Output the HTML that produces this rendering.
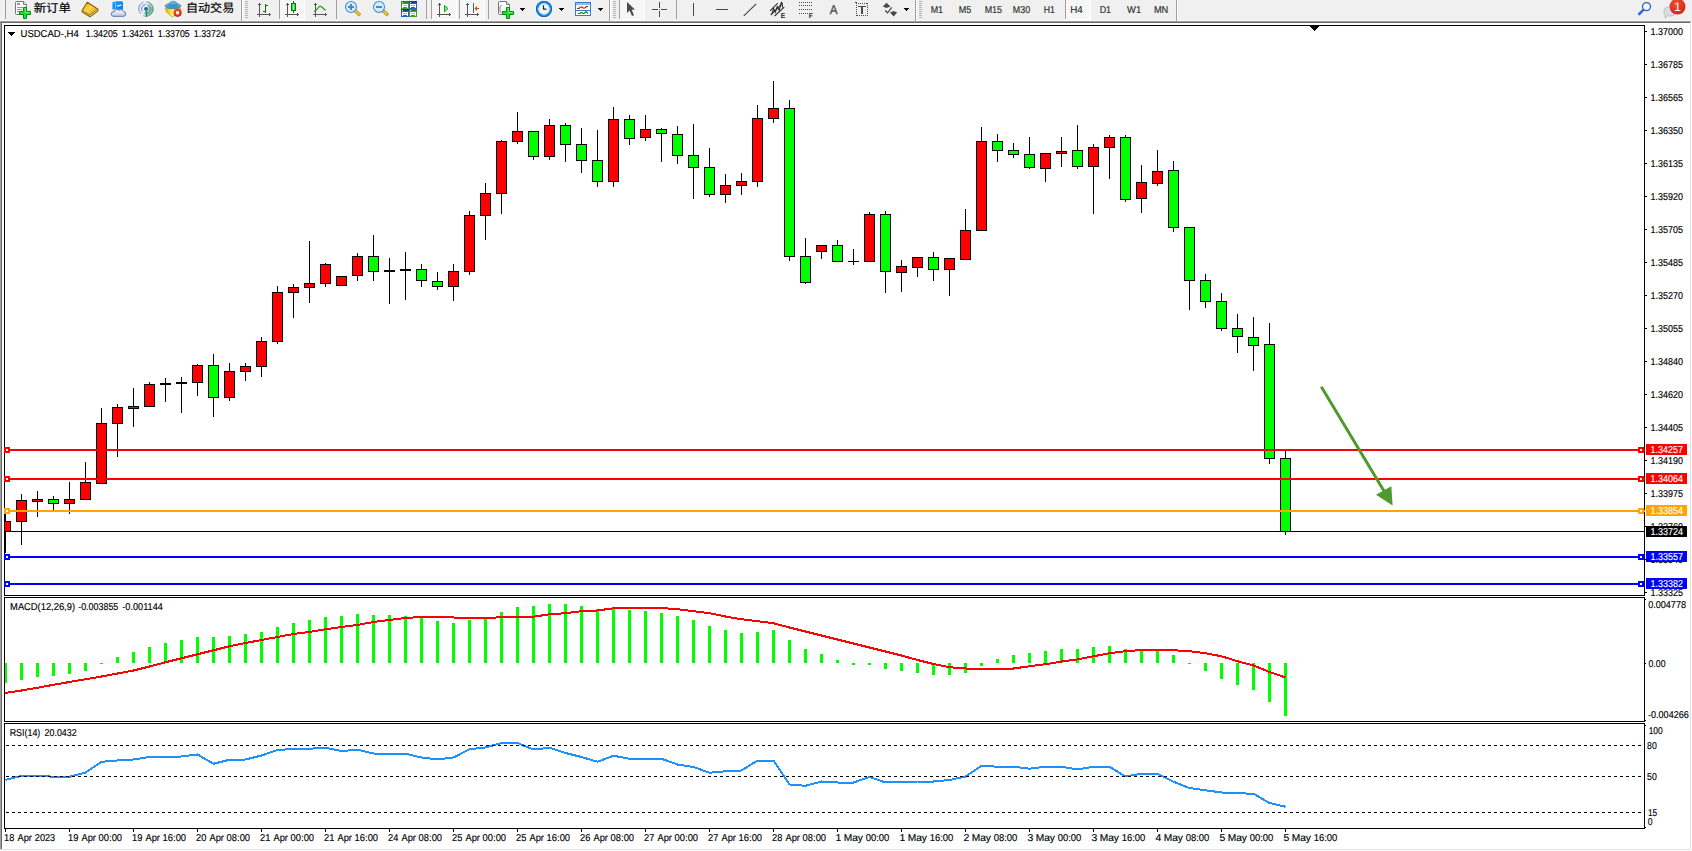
<!DOCTYPE html>
<html lang="zh"><head><meta charset="utf-8"><title>USDCAD-,H4</title>
<style>html,body{margin:0;padding:0;background:#fff;overflow:hidden}body{width:1692px;height:851px}svg{display:block}text{font-family:'Liberation Sans','Noto Sans CJK SC',sans-serif;white-space:pre;text-rendering:geometricPrecision}</style>
</head><body>
<svg width="1692" height="851" viewBox="0 0 1692 851">
<g shape-rendering="crispEdges">
<rect x="0" y="0" width="1692" height="851" fill="#fff"/>
<rect x="0" y="0" width="1692" height="20" fill="#f0f0f0"/>
<rect x="0" y="20" width="1692" height="1" fill="#f6f6f6"/>
<rect x="0" y="21" width="1691" height="1" fill="#a0a0a0"/>
<rect x="0" y="21" width="1" height="829" fill="#a0a0a0"/>
<rect x="1" y="22" width="1690" height="1" fill="#696969"/>
<rect x="1" y="22" width="1" height="827" fill="#696969"/>
<rect x="1690" y="22" width="1" height="828" fill="#e3e3e3"/>
<rect x="0" y="849" width="1691" height="1" fill="#e3e3e3"/>
<rect x="4" y="25" width="1641" height="1" fill="#000"/>
<rect x="4" y="25" width="1" height="804" fill="#000"/>
<rect x="1644" y="25" width="1" height="804" fill="#000"/>
<rect x="4" y="828" width="1641" height="1" fill="#000"/>
<rect x="4" y="595" width="1641" height="1" fill="#000"/>
<rect x="4" y="597" width="1641" height="1" fill="#000"/>
<rect x="4" y="596" width="1641" height="1" fill="#fff"/>
<rect x="4" y="721" width="1641" height="1" fill="#000"/>
<rect x="4" y="723" width="1641" height="1" fill="#000"/>
<rect x="4" y="722" width="1641" height="1" fill="#fff"/>
<rect x="5" y="514" width="1" height="39" fill="#000"/>
<rect x="5" y="521" width="6" height="11" fill="#000"/>
<rect x="5" y="522" width="5" height="9" fill="#ff0000"/>
<rect x="21" y="494" width="1" height="51" fill="#000"/>
<rect x="16" y="500" width="11" height="22" fill="#000"/>
<rect x="17" y="501" width="9" height="20" fill="#ff0000"/>
<rect x="37" y="491" width="1" height="26" fill="#000"/>
<rect x="32" y="499" width="11" height="3" fill="#000"/>
<rect x="33" y="500" width="9" height="1" fill="#ff0000"/>
<rect x="53" y="496" width="1" height="14" fill="#000"/>
<rect x="48" y="499" width="11" height="5" fill="#000"/>
<rect x="49" y="500" width="9" height="3" fill="#00ff00"/>
<rect x="69" y="482" width="1" height="32" fill="#000"/>
<rect x="64" y="499" width="11" height="5" fill="#000"/>
<rect x="65" y="500" width="9" height="3" fill="#ff0000"/>
<rect x="85" y="462" width="1" height="38" fill="#000"/>
<rect x="80" y="482" width="11" height="18" fill="#000"/>
<rect x="81" y="483" width="9" height="16" fill="#ff0000"/>
<rect x="101" y="408" width="1" height="76" fill="#000"/>
<rect x="96" y="423" width="11" height="61" fill="#000"/>
<rect x="97" y="424" width="9" height="59" fill="#ff0000"/>
<rect x="117" y="404" width="1" height="53" fill="#000"/>
<rect x="112" y="407" width="11" height="17" fill="#000"/>
<rect x="113" y="408" width="9" height="15" fill="#ff0000"/>
<rect x="133" y="388" width="1" height="39" fill="#000"/>
<rect x="128" y="406" width="11" height="3" fill="#000"/>
<rect x="129" y="407" width="9" height="1" fill="#ff0000"/>
<rect x="149" y="382" width="1" height="25" fill="#000"/>
<rect x="144" y="384" width="11" height="23" fill="#000"/>
<rect x="145" y="385" width="9" height="21" fill="#ff0000"/>
<rect x="165" y="378" width="1" height="24" fill="#000"/>
<rect x="160" y="383" width="11" height="2" fill="#000"/>
<rect x="181" y="377" width="1" height="36" fill="#000"/>
<rect x="176" y="382" width="11" height="2" fill="#000"/>
<rect x="197" y="364" width="1" height="32" fill="#000"/>
<rect x="192" y="365" width="11" height="18" fill="#000"/>
<rect x="193" y="366" width="9" height="16" fill="#ff0000"/>
<rect x="213" y="354" width="1" height="63" fill="#000"/>
<rect x="208" y="365" width="11" height="33" fill="#000"/>
<rect x="209" y="366" width="9" height="31" fill="#00ff00"/>
<rect x="229" y="363" width="1" height="38" fill="#000"/>
<rect x="224" y="371" width="11" height="27" fill="#000"/>
<rect x="225" y="372" width="9" height="25" fill="#ff0000"/>
<rect x="245" y="363" width="1" height="18" fill="#000"/>
<rect x="240" y="366" width="11" height="6" fill="#000"/>
<rect x="241" y="367" width="9" height="4" fill="#ff0000"/>
<rect x="261" y="337" width="1" height="40" fill="#000"/>
<rect x="256" y="341" width="11" height="26" fill="#000"/>
<rect x="257" y="342" width="9" height="24" fill="#ff0000"/>
<rect x="277" y="286" width="1" height="58" fill="#000"/>
<rect x="272" y="292" width="11" height="50" fill="#000"/>
<rect x="273" y="293" width="9" height="48" fill="#ff0000"/>
<rect x="293" y="284" width="1" height="34" fill="#000"/>
<rect x="288" y="287" width="11" height="6" fill="#000"/>
<rect x="289" y="288" width="9" height="4" fill="#ff0000"/>
<rect x="309" y="241" width="1" height="62" fill="#000"/>
<rect x="304" y="283" width="11" height="5" fill="#000"/>
<rect x="305" y="284" width="9" height="3" fill="#ff0000"/>
<rect x="325" y="263" width="1" height="24" fill="#000"/>
<rect x="320" y="264" width="11" height="20" fill="#000"/>
<rect x="321" y="265" width="9" height="18" fill="#ff0000"/>
<rect x="341" y="276" width="1" height="10" fill="#000"/>
<rect x="336" y="276" width="11" height="10" fill="#000"/>
<rect x="337" y="277" width="9" height="8" fill="#ff0000"/>
<rect x="357" y="253" width="1" height="28" fill="#000"/>
<rect x="352" y="256" width="11" height="20" fill="#000"/>
<rect x="353" y="257" width="9" height="18" fill="#ff0000"/>
<rect x="373" y="235" width="1" height="46" fill="#000"/>
<rect x="368" y="256" width="11" height="16" fill="#000"/>
<rect x="369" y="257" width="9" height="14" fill="#00ff00"/>
<rect x="389" y="258" width="1" height="46" fill="#000"/>
<rect x="384" y="270" width="11" height="2" fill="#000"/>
<rect x="405" y="252" width="1" height="48" fill="#000"/>
<rect x="400" y="269" width="11" height="2" fill="#000"/>
<rect x="421" y="264" width="1" height="23" fill="#000"/>
<rect x="416" y="269" width="11" height="12" fill="#000"/>
<rect x="417" y="270" width="9" height="10" fill="#00ff00"/>
<rect x="437" y="272" width="1" height="18" fill="#000"/>
<rect x="432" y="281" width="11" height="6" fill="#000"/>
<rect x="433" y="282" width="9" height="4" fill="#00ff00"/>
<rect x="453" y="264" width="1" height="37" fill="#000"/>
<rect x="448" y="271" width="11" height="16" fill="#000"/>
<rect x="449" y="272" width="9" height="14" fill="#ff0000"/>
<rect x="469" y="211" width="1" height="64" fill="#000"/>
<rect x="464" y="215" width="11" height="57" fill="#000"/>
<rect x="465" y="216" width="9" height="55" fill="#ff0000"/>
<rect x="485" y="183" width="1" height="57" fill="#000"/>
<rect x="480" y="193" width="11" height="23" fill="#000"/>
<rect x="481" y="194" width="9" height="21" fill="#ff0000"/>
<rect x="501" y="140" width="1" height="74" fill="#000"/>
<rect x="496" y="141" width="11" height="53" fill="#000"/>
<rect x="497" y="142" width="9" height="51" fill="#ff0000"/>
<rect x="517" y="112" width="1" height="32" fill="#000"/>
<rect x="512" y="131" width="11" height="11" fill="#000"/>
<rect x="513" y="132" width="9" height="9" fill="#ff0000"/>
<rect x="533" y="131" width="1" height="29" fill="#000"/>
<rect x="528" y="131" width="11" height="26" fill="#000"/>
<rect x="529" y="132" width="9" height="24" fill="#00ff00"/>
<rect x="549" y="119" width="1" height="41" fill="#000"/>
<rect x="544" y="125" width="11" height="32" fill="#000"/>
<rect x="545" y="126" width="9" height="30" fill="#ff0000"/>
<rect x="565" y="123" width="1" height="39" fill="#000"/>
<rect x="560" y="125" width="11" height="20" fill="#000"/>
<rect x="561" y="126" width="9" height="18" fill="#00ff00"/>
<rect x="581" y="128" width="1" height="45" fill="#000"/>
<rect x="576" y="144" width="11" height="17" fill="#000"/>
<rect x="577" y="145" width="9" height="15" fill="#00ff00"/>
<rect x="597" y="130" width="1" height="57" fill="#000"/>
<rect x="592" y="160" width="11" height="22" fill="#000"/>
<rect x="593" y="161" width="9" height="20" fill="#00ff00"/>
<rect x="613" y="107" width="1" height="80" fill="#000"/>
<rect x="608" y="119" width="11" height="63" fill="#000"/>
<rect x="609" y="120" width="9" height="61" fill="#ff0000"/>
<rect x="629" y="115" width="1" height="30" fill="#000"/>
<rect x="624" y="119" width="11" height="20" fill="#000"/>
<rect x="625" y="120" width="9" height="18" fill="#00ff00"/>
<rect x="645" y="115" width="1" height="26" fill="#000"/>
<rect x="640" y="129" width="11" height="9" fill="#000"/>
<rect x="641" y="130" width="9" height="7" fill="#ff0000"/>
<rect x="661" y="128" width="1" height="34" fill="#000"/>
<rect x="656" y="129" width="11" height="5" fill="#000"/>
<rect x="657" y="130" width="9" height="3" fill="#00ff00"/>
<rect x="677" y="126" width="1" height="38" fill="#000"/>
<rect x="672" y="134" width="11" height="22" fill="#000"/>
<rect x="673" y="135" width="9" height="20" fill="#00ff00"/>
<rect x="693" y="124" width="1" height="75" fill="#000"/>
<rect x="688" y="155" width="11" height="13" fill="#000"/>
<rect x="689" y="156" width="9" height="11" fill="#00ff00"/>
<rect x="709" y="148" width="1" height="49" fill="#000"/>
<rect x="704" y="167" width="11" height="28" fill="#000"/>
<rect x="705" y="168" width="9" height="26" fill="#00ff00"/>
<rect x="725" y="174" width="1" height="29" fill="#000"/>
<rect x="720" y="185" width="11" height="10" fill="#000"/>
<rect x="721" y="186" width="9" height="8" fill="#ff0000"/>
<rect x="741" y="173" width="1" height="22" fill="#000"/>
<rect x="736" y="181" width="11" height="5" fill="#000"/>
<rect x="737" y="182" width="9" height="3" fill="#ff0000"/>
<rect x="757" y="105" width="1" height="82" fill="#000"/>
<rect x="752" y="118" width="11" height="64" fill="#000"/>
<rect x="753" y="119" width="9" height="62" fill="#ff0000"/>
<rect x="773" y="81" width="1" height="42" fill="#000"/>
<rect x="768" y="108" width="11" height="11" fill="#000"/>
<rect x="769" y="109" width="9" height="9" fill="#ff0000"/>
<rect x="789" y="100" width="1" height="161" fill="#000"/>
<rect x="784" y="108" width="11" height="149" fill="#000"/>
<rect x="785" y="109" width="9" height="147" fill="#00ff00"/>
<rect x="805" y="238" width="1" height="46" fill="#000"/>
<rect x="800" y="256" width="11" height="27" fill="#000"/>
<rect x="801" y="257" width="9" height="25" fill="#00ff00"/>
<rect x="821" y="245" width="1" height="14" fill="#000"/>
<rect x="816" y="245" width="11" height="7" fill="#000"/>
<rect x="817" y="246" width="9" height="5" fill="#ff0000"/>
<rect x="837" y="240" width="1" height="22" fill="#000"/>
<rect x="832" y="245" width="11" height="17" fill="#000"/>
<rect x="833" y="246" width="9" height="15" fill="#00ff00"/>
<rect x="853" y="249" width="1" height="16" fill="#000"/>
<rect x="848" y="261" width="11" height="1" fill="#000"/>
<rect x="869" y="212" width="1" height="50" fill="#000"/>
<rect x="864" y="214" width="11" height="48" fill="#000"/>
<rect x="865" y="215" width="9" height="46" fill="#ff0000"/>
<rect x="885" y="211" width="1" height="82" fill="#000"/>
<rect x="880" y="214" width="11" height="58" fill="#000"/>
<rect x="881" y="215" width="9" height="56" fill="#00ff00"/>
<rect x="901" y="260" width="1" height="32" fill="#000"/>
<rect x="896" y="266" width="11" height="7" fill="#000"/>
<rect x="897" y="267" width="9" height="5" fill="#ff0000"/>
<rect x="917" y="257" width="1" height="20" fill="#000"/>
<rect x="912" y="257" width="11" height="11" fill="#000"/>
<rect x="913" y="258" width="9" height="9" fill="#ff0000"/>
<rect x="933" y="252" width="1" height="29" fill="#000"/>
<rect x="928" y="257" width="11" height="13" fill="#000"/>
<rect x="929" y="258" width="9" height="11" fill="#00ff00"/>
<rect x="949" y="258" width="1" height="38" fill="#000"/>
<rect x="944" y="258" width="11" height="12" fill="#000"/>
<rect x="945" y="259" width="9" height="10" fill="#ff0000"/>
<rect x="965" y="209" width="1" height="51" fill="#000"/>
<rect x="960" y="230" width="11" height="30" fill="#000"/>
<rect x="961" y="231" width="9" height="28" fill="#ff0000"/>
<rect x="981" y="127" width="1" height="104" fill="#000"/>
<rect x="976" y="141" width="11" height="90" fill="#000"/>
<rect x="977" y="142" width="9" height="88" fill="#ff0000"/>
<rect x="997" y="134" width="1" height="28" fill="#000"/>
<rect x="992" y="141" width="11" height="10" fill="#000"/>
<rect x="993" y="142" width="9" height="8" fill="#00ff00"/>
<rect x="1013" y="143" width="1" height="15" fill="#000"/>
<rect x="1008" y="150" width="11" height="5" fill="#000"/>
<rect x="1009" y="151" width="9" height="3" fill="#00ff00"/>
<rect x="1029" y="137" width="1" height="32" fill="#000"/>
<rect x="1024" y="154" width="11" height="14" fill="#000"/>
<rect x="1025" y="155" width="9" height="12" fill="#00ff00"/>
<rect x="1045" y="153" width="1" height="29" fill="#000"/>
<rect x="1040" y="153" width="11" height="16" fill="#000"/>
<rect x="1041" y="154" width="9" height="14" fill="#ff0000"/>
<rect x="1061" y="137" width="1" height="30" fill="#000"/>
<rect x="1056" y="151" width="11" height="3" fill="#000"/>
<rect x="1057" y="152" width="9" height="1" fill="#ff0000"/>
<rect x="1077" y="125" width="1" height="44" fill="#000"/>
<rect x="1072" y="150" width="11" height="17" fill="#000"/>
<rect x="1073" y="151" width="9" height="15" fill="#00ff00"/>
<rect x="1093" y="144" width="1" height="70" fill="#000"/>
<rect x="1088" y="147" width="11" height="20" fill="#000"/>
<rect x="1089" y="148" width="9" height="18" fill="#ff0000"/>
<rect x="1109" y="135" width="1" height="44" fill="#000"/>
<rect x="1104" y="137" width="11" height="11" fill="#000"/>
<rect x="1105" y="138" width="9" height="9" fill="#ff0000"/>
<rect x="1125" y="135" width="1" height="67" fill="#000"/>
<rect x="1120" y="137" width="11" height="63" fill="#000"/>
<rect x="1121" y="138" width="9" height="61" fill="#00ff00"/>
<rect x="1141" y="165" width="1" height="48" fill="#000"/>
<rect x="1136" y="182" width="11" height="17" fill="#000"/>
<rect x="1137" y="183" width="9" height="15" fill="#ff0000"/>
<rect x="1157" y="150" width="1" height="36" fill="#000"/>
<rect x="1152" y="171" width="11" height="13" fill="#000"/>
<rect x="1153" y="172" width="9" height="11" fill="#ff0000"/>
<rect x="1173" y="161" width="1" height="71" fill="#000"/>
<rect x="1168" y="170" width="11" height="58" fill="#000"/>
<rect x="1169" y="171" width="9" height="56" fill="#00ff00"/>
<rect x="1189" y="227" width="1" height="83" fill="#000"/>
<rect x="1184" y="227" width="11" height="54" fill="#000"/>
<rect x="1185" y="228" width="9" height="52" fill="#00ff00"/>
<rect x="1205" y="274" width="1" height="34" fill="#000"/>
<rect x="1200" y="280" width="11" height="22" fill="#000"/>
<rect x="1201" y="281" width="9" height="20" fill="#00ff00"/>
<rect x="1221" y="293" width="1" height="38" fill="#000"/>
<rect x="1216" y="301" width="11" height="28" fill="#000"/>
<rect x="1217" y="302" width="9" height="26" fill="#00ff00"/>
<rect x="1237" y="314" width="1" height="39" fill="#000"/>
<rect x="1232" y="328" width="11" height="9" fill="#000"/>
<rect x="1233" y="329" width="9" height="7" fill="#00ff00"/>
<rect x="1253" y="317" width="1" height="54" fill="#000"/>
<rect x="1248" y="337" width="11" height="9" fill="#000"/>
<rect x="1249" y="338" width="9" height="7" fill="#00ff00"/>
<rect x="1269" y="323" width="1" height="141" fill="#000"/>
<rect x="1264" y="344" width="11" height="115" fill="#000"/>
<rect x="1265" y="345" width="9" height="113" fill="#00ff00"/>
<rect x="1285" y="451" width="1" height="84" fill="#000"/>
<rect x="1280" y="458" width="11" height="74" fill="#000"/>
<rect x="1281" y="459" width="9" height="72" fill="#00ff00"/>
<rect x="5" y="531" width="1639" height="1" fill="#000"/>
<rect x="5" y="449" width="1640" height="2" fill="#ff0000"/>
<rect x="4" y="447" width="6" height="6" fill="#ff0000"/>
<rect x="6" y="449" width="2" height="2" fill="#fff"/>
<rect x="1638" y="447" width="6" height="6" fill="#ff0000"/>
<rect x="1640" y="449" width="2" height="2" fill="#fff"/>
<rect x="5" y="478" width="1640" height="2" fill="#ff0000"/>
<rect x="4" y="476" width="6" height="6" fill="#ff0000"/>
<rect x="6" y="478" width="2" height="2" fill="#fff"/>
<rect x="1638" y="476" width="6" height="6" fill="#ff0000"/>
<rect x="1640" y="478" width="2" height="2" fill="#fff"/>
<rect x="5" y="510" width="1640" height="2" fill="#ffa500"/>
<rect x="4" y="508" width="6" height="6" fill="#ffa500"/>
<rect x="6" y="510" width="2" height="2" fill="#fff"/>
<rect x="1638" y="508" width="6" height="6" fill="#ffa500"/>
<rect x="1640" y="510" width="2" height="2" fill="#fff"/>
<rect x="5" y="556" width="1640" height="2" fill="#0000ff"/>
<rect x="4" y="554" width="6" height="6" fill="#0000ff"/>
<rect x="6" y="556" width="2" height="2" fill="#fff"/>
<rect x="1638" y="554" width="6" height="6" fill="#0000ff"/>
<rect x="1640" y="556" width="2" height="2" fill="#fff"/>
<rect x="5" y="583" width="1640" height="2" fill="#0000ff"/>
<rect x="4" y="581" width="6" height="6" fill="#0000ff"/>
<rect x="6" y="583" width="2" height="2" fill="#fff"/>
<rect x="1638" y="581" width="6" height="6" fill="#0000ff"/>
<rect x="1640" y="583" width="2" height="2" fill="#fff"/>
</g>
<g shape-rendering="crispEdges">
<rect x="1645" y="31" width="2" height="1" fill="#000"/>
</g>
<text x="1650.5" y="35" font-size="10" fill="#000" textLength="32.4" lengthAdjust="spacingAndGlyphs" stroke="#000" stroke-width="0.15">1.37000</text>
<g shape-rendering="crispEdges">
<rect x="1645" y="64" width="2" height="1" fill="#000"/>
</g>
<text x="1650.5" y="68" font-size="10" fill="#000" textLength="32.4" lengthAdjust="spacingAndGlyphs" stroke="#000" stroke-width="0.15">1.36785</text>
<g shape-rendering="crispEdges">
<rect x="1645" y="97" width="2" height="1" fill="#000"/>
</g>
<text x="1650.5" y="101" font-size="10" fill="#000" textLength="32.4" lengthAdjust="spacingAndGlyphs" stroke="#000" stroke-width="0.15">1.36565</text>
<g shape-rendering="crispEdges">
<rect x="1645" y="130" width="2" height="1" fill="#000"/>
</g>
<text x="1650.5" y="134" font-size="10" fill="#000" textLength="32.4" lengthAdjust="spacingAndGlyphs" stroke="#000" stroke-width="0.15">1.36350</text>
<g shape-rendering="crispEdges">
<rect x="1645" y="163" width="2" height="1" fill="#000"/>
</g>
<text x="1650.5" y="167" font-size="10" fill="#000" textLength="32.4" lengthAdjust="spacingAndGlyphs" stroke="#000" stroke-width="0.15">1.36135</text>
<g shape-rendering="crispEdges">
<rect x="1645" y="196" width="2" height="1" fill="#000"/>
</g>
<text x="1650.5" y="200" font-size="10" fill="#000" textLength="32.4" lengthAdjust="spacingAndGlyphs" stroke="#000" stroke-width="0.15">1.35920</text>
<g shape-rendering="crispEdges">
<rect x="1645" y="229" width="2" height="1" fill="#000"/>
</g>
<text x="1650.5" y="233" font-size="10" fill="#000" textLength="32.4" lengthAdjust="spacingAndGlyphs" stroke="#000" stroke-width="0.15">1.35705</text>
<g shape-rendering="crispEdges">
<rect x="1645" y="262" width="2" height="1" fill="#000"/>
</g>
<text x="1650.5" y="266" font-size="10" fill="#000" textLength="32.4" lengthAdjust="spacingAndGlyphs" stroke="#000" stroke-width="0.15">1.35485</text>
<g shape-rendering="crispEdges">
<rect x="1645" y="295" width="2" height="1" fill="#000"/>
</g>
<text x="1650.5" y="299" font-size="10" fill="#000" textLength="32.4" lengthAdjust="spacingAndGlyphs" stroke="#000" stroke-width="0.15">1.35270</text>
<g shape-rendering="crispEdges">
<rect x="1645" y="328" width="2" height="1" fill="#000"/>
</g>
<text x="1650.5" y="332" font-size="10" fill="#000" textLength="32.4" lengthAdjust="spacingAndGlyphs" stroke="#000" stroke-width="0.15">1.35055</text>
<g shape-rendering="crispEdges">
<rect x="1645" y="361" width="2" height="1" fill="#000"/>
</g>
<text x="1650.5" y="365" font-size="10" fill="#000" textLength="32.4" lengthAdjust="spacingAndGlyphs" stroke="#000" stroke-width="0.15">1.34840</text>
<g shape-rendering="crispEdges">
<rect x="1645" y="394" width="2" height="1" fill="#000"/>
</g>
<text x="1650.5" y="398" font-size="10" fill="#000" textLength="32.4" lengthAdjust="spacingAndGlyphs" stroke="#000" stroke-width="0.15">1.34620</text>
<g shape-rendering="crispEdges">
<rect x="1645" y="427" width="2" height="1" fill="#000"/>
</g>
<text x="1650.5" y="431" font-size="10" fill="#000" textLength="32.4" lengthAdjust="spacingAndGlyphs" stroke="#000" stroke-width="0.15">1.34405</text>
<g shape-rendering="crispEdges">
<rect x="1645" y="460" width="2" height="1" fill="#000"/>
</g>
<text x="1650.5" y="464" font-size="10" fill="#000" textLength="32.4" lengthAdjust="spacingAndGlyphs" stroke="#000" stroke-width="0.15">1.34190</text>
<g shape-rendering="crispEdges">
<rect x="1645" y="493" width="2" height="1" fill="#000"/>
</g>
<text x="1650.5" y="497" font-size="10" fill="#000" textLength="32.4" lengthAdjust="spacingAndGlyphs" stroke="#000" stroke-width="0.15">1.33975</text>
<g shape-rendering="crispEdges">
<rect x="1645" y="526" width="2" height="1" fill="#000"/>
</g>
<text x="1650.5" y="530" font-size="10" fill="#000" textLength="32.4" lengthAdjust="spacingAndGlyphs" stroke="#000" stroke-width="0.15">1.33760</text>
<g shape-rendering="crispEdges">
<rect x="1645" y="559" width="2" height="1" fill="#000"/>
</g>
<text x="1650.5" y="563" font-size="10" fill="#000" textLength="32.4" lengthAdjust="spacingAndGlyphs" stroke="#000" stroke-width="0.15">1.33540</text>
<g shape-rendering="crispEdges">
<rect x="1645" y="592" width="2" height="1" fill="#000"/>
</g>
<text x="1650.5" y="596" font-size="10" fill="#000" textLength="32.4" lengthAdjust="spacingAndGlyphs" stroke="#000" stroke-width="0.15">1.33325</text>
<g shape-rendering="crispEdges">
<rect x="1646" y="444" width="41" height="11" fill="#ff0000"/>
<rect x="1646" y="473" width="41" height="11" fill="#ff0000"/>
<rect x="1646" y="505" width="41" height="11" fill="#ffa500"/>
<rect x="1646" y="551" width="41" height="11" fill="#0000ff"/>
<rect x="1646" y="578" width="41" height="11" fill="#0000ff"/>
<rect x="1646" y="526" width="41" height="11" fill="#000"/>
</g>
<text x="1650.5" y="453" font-size="10" fill="#fff" textLength="32.4" lengthAdjust="spacingAndGlyphs" stroke="#fff" stroke-width="0.15">1.34257</text>
<text x="1650.5" y="482" font-size="10" fill="#fff" textLength="32.4" lengthAdjust="spacingAndGlyphs" stroke="#fff" stroke-width="0.15">1.34064</text>
<text x="1650.5" y="514" font-size="10" fill="#fff" textLength="32.4" lengthAdjust="spacingAndGlyphs" stroke="#fff" stroke-width="0.15">1.33854</text>
<text x="1650.5" y="560" font-size="10" fill="#fff" textLength="32.4" lengthAdjust="spacingAndGlyphs" stroke="#fff" stroke-width="0.15">1.33557</text>
<text x="1650.5" y="587" font-size="10" fill="#fff" textLength="32.4" lengthAdjust="spacingAndGlyphs" stroke="#fff" stroke-width="0.15">1.33382</text>
<text x="1650.5" y="535" font-size="10" fill="#fff" textLength="32.4" lengthAdjust="spacingAndGlyphs" stroke="#fff" stroke-width="0.15">1.33724</text>
<g shape-rendering="crispEdges">
<rect x="5" y="663" width="2" height="20" fill="#00ff00"/>
<rect x="20" y="663" width="3" height="17" fill="#00ff00"/>
<rect x="36" y="663" width="3" height="14" fill="#00ff00"/>
<rect x="52" y="663" width="3" height="13" fill="#00ff00"/>
<rect x="68" y="663" width="3" height="11" fill="#00ff00"/>
<rect x="84" y="663" width="3" height="8" fill="#00ff00"/>
<rect x="100" y="663" width="3" height="1" fill="#00ff00"/>
<rect x="116" y="657" width="3" height="6" fill="#00ff00"/>
<rect x="132" y="652" width="3" height="11" fill="#00ff00"/>
<rect x="148" y="647" width="3" height="16" fill="#00ff00"/>
<rect x="164" y="643" width="3" height="20" fill="#00ff00"/>
<rect x="180" y="640" width="3" height="23" fill="#00ff00"/>
<rect x="196" y="637" width="3" height="26" fill="#00ff00"/>
<rect x="212" y="637" width="3" height="26" fill="#00ff00"/>
<rect x="228" y="636" width="3" height="27" fill="#00ff00"/>
<rect x="244" y="634" width="3" height="29" fill="#00ff00"/>
<rect x="260" y="632" width="3" height="31" fill="#00ff00"/>
<rect x="276" y="627" width="3" height="36" fill="#00ff00"/>
<rect x="292" y="623" width="3" height="40" fill="#00ff00"/>
<rect x="308" y="620" width="3" height="43" fill="#00ff00"/>
<rect x="324" y="617" width="3" height="46" fill="#00ff00"/>
<rect x="340" y="616" width="3" height="47" fill="#00ff00"/>
<rect x="356" y="614" width="3" height="49" fill="#00ff00"/>
<rect x="372" y="615" width="3" height="48" fill="#00ff00"/>
<rect x="388" y="615" width="3" height="48" fill="#00ff00"/>
<rect x="404" y="616" width="3" height="47" fill="#00ff00"/>
<rect x="420" y="618" width="3" height="45" fill="#00ff00"/>
<rect x="436" y="621" width="3" height="42" fill="#00ff00"/>
<rect x="452" y="623" width="3" height="40" fill="#00ff00"/>
<rect x="468" y="620" width="3" height="43" fill="#00ff00"/>
<rect x="484" y="618" width="3" height="45" fill="#00ff00"/>
<rect x="500" y="612" width="3" height="51" fill="#00ff00"/>
<rect x="516" y="607" width="3" height="56" fill="#00ff00"/>
<rect x="532" y="606" width="3" height="57" fill="#00ff00"/>
<rect x="548" y="604" width="3" height="59" fill="#00ff00"/>
<rect x="564" y="604" width="3" height="59" fill="#00ff00"/>
<rect x="580" y="606" width="3" height="57" fill="#00ff00"/>
<rect x="596" y="609" width="3" height="54" fill="#00ff00"/>
<rect x="612" y="608" width="3" height="55" fill="#00ff00"/>
<rect x="628" y="610" width="3" height="53" fill="#00ff00"/>
<rect x="644" y="611" width="3" height="52" fill="#00ff00"/>
<rect x="660" y="613" width="3" height="50" fill="#00ff00"/>
<rect x="676" y="616" width="3" height="47" fill="#00ff00"/>
<rect x="692" y="620" width="3" height="43" fill="#00ff00"/>
<rect x="708" y="626" width="3" height="37" fill="#00ff00"/>
<rect x="724" y="630" width="3" height="33" fill="#00ff00"/>
<rect x="740" y="633" width="3" height="30" fill="#00ff00"/>
<rect x="756" y="632" width="3" height="31" fill="#00ff00"/>
<rect x="772" y="630" width="3" height="33" fill="#00ff00"/>
<rect x="788" y="640" width="3" height="23" fill="#00ff00"/>
<rect x="804" y="649" width="3" height="14" fill="#00ff00"/>
<rect x="820" y="654" width="3" height="9" fill="#00ff00"/>
<rect x="836" y="660" width="3" height="3" fill="#00ff00"/>
<rect x="852" y="663" width="3" height="2" fill="#00ff00"/>
<rect x="868" y="663" width="3" height="2" fill="#00ff00"/>
<rect x="884" y="663" width="3" height="6" fill="#00ff00"/>
<rect x="900" y="663" width="3" height="8" fill="#00ff00"/>
<rect x="916" y="663" width="3" height="10" fill="#00ff00"/>
<rect x="932" y="663" width="3" height="12" fill="#00ff00"/>
<rect x="948" y="663" width="3" height="12" fill="#00ff00"/>
<rect x="964" y="663" width="3" height="10" fill="#00ff00"/>
<rect x="980" y="663" width="3" height="3" fill="#00ff00"/>
<rect x="996" y="659" width="3" height="4" fill="#00ff00"/>
<rect x="1012" y="655" width="3" height="8" fill="#00ff00"/>
<rect x="1028" y="653" width="3" height="10" fill="#00ff00"/>
<rect x="1044" y="651" width="3" height="12" fill="#00ff00"/>
<rect x="1060" y="649" width="3" height="14" fill="#00ff00"/>
<rect x="1076" y="649" width="3" height="14" fill="#00ff00"/>
<rect x="1092" y="647" width="3" height="16" fill="#00ff00"/>
<rect x="1108" y="646" width="3" height="17" fill="#00ff00"/>
<rect x="1124" y="649" width="3" height="14" fill="#00ff00"/>
<rect x="1140" y="650" width="3" height="13" fill="#00ff00"/>
<rect x="1156" y="651" width="3" height="12" fill="#00ff00"/>
<rect x="1172" y="655" width="3" height="8" fill="#00ff00"/>
<rect x="1188" y="663" width="3" height="1" fill="#00ff00"/>
<rect x="1204" y="663" width="3" height="8" fill="#00ff00"/>
<rect x="1220" y="663" width="3" height="16" fill="#00ff00"/>
<rect x="1236" y="663" width="3" height="22" fill="#00ff00"/>
<rect x="1252" y="663" width="3" height="27" fill="#00ff00"/>
<rect x="1268" y="663" width="3" height="39" fill="#00ff00"/>
<rect x="1284" y="663" width="3" height="53" fill="#00ff00"/>
</g>
<polyline points="5,693 21.5,690.5 37.5,687.75 53.5,684.75 69.5,682 85.5,679.25 101.5,676.5 117.5,673.5 133.5,670.5 149.5,666.5 165.5,662.25 181.5,658.25 197.5,654.25 213.5,650.25 229.5,646.25 245.5,643 261.5,640 277.5,637 293.5,634 309.5,632 325.5,629.25 341.5,627 357.5,625 373.5,622 389.5,620 405.5,618 421.5,617 437.5,617.25 453.5,617.5 469.5,617.75 485.5,618 501.5,617.25 517.5,617 533.5,616.75 549.5,614.25 565.5,613.25 581.5,611.25 597.5,610.5 613.5,608.25 629.5,608 645.5,608 661.5,608 677.5,609.25 693.5,611.25 709.5,613.25 725.5,616.5 741.5,619.25 757.5,621.25 773.5,623.25 789.5,627.5 805.5,631.5 821.5,635.5 837.5,639.5 853.5,643.5 869.5,647.5 885.5,651.5 901.5,655.5 917.5,660 933.5,664 949.5,667.25 965.5,668.5 981.5,668.5 997.5,668.5 1013.5,668.5 1029.5,666.25 1045.5,664.25 1061.5,661.5 1077.5,659.5 1093.5,656.25 1109.5,653.25 1125.5,651.25 1141.5,650 1157.5,649.75 1173.5,650.25 1189.5,651.25 1205.5,653.25 1221.5,656.25 1237.5,661.25 1253.5,665.5 1269.5,672 1285.5,677.5" fill="none" stroke="#ff0000" stroke-width="2" stroke-linejoin="round" shape-rendering="crispEdges"/>
<polyline points="5.5,780 21.5,775.75 37.5,775.75 53.5,776.75 69.5,776.75 85.5,772.5 101.5,761.75 117.5,760.5 133.5,759.5 149.5,757 165.5,756.75 181.5,756.5 197.5,754.5 213.5,763.75 229.5,759.75 245.5,759.5 261.5,755.5 277.5,750 293.5,749 309.5,748.75 325.5,747.75 341.5,751 357.5,749.75 373.5,753.5 389.5,753.5 405.5,753.75 421.5,757.5 437.5,759.5 453.5,757.5 469.5,749.25 485.5,747.5 501.5,743 517.5,743 533.5,749.5 549.5,747.75 565.5,753 581.5,757 597.5,761.75 613.5,755.75 629.5,758.75 645.5,758.75 661.5,758.75 677.5,764.5 693.5,767 709.5,772.75 725.5,771.25 741.5,770.5 757.5,760.5 773.5,760.5 789.5,784.5 805.5,785.75 821.5,781.5 837.5,782.5 853.5,782.5 869.5,777 885.5,782.5 901.5,782 917.5,781.5 933.5,781.5 949.5,780 965.5,776.5 981.5,765.75 997.5,766.75 1013.5,766.75 1029.5,768.75 1045.5,766.75 1061.5,766.75 1077.5,769.5 1093.5,766.75 1109.5,766.75 1125.5,776.5 1141.5,773.75 1157.5,773.75 1173.5,781.75 1189.5,788 1205.5,790.25 1221.5,792.5 1237.5,793.25 1253.5,793.75 1269.5,803 1285.5,806.75" fill="none" stroke="#1e90ff" stroke-width="2" stroke-linejoin="round" shape-rendering="crispEdges"/>
<g shape-rendering="crispEdges">
<line x1="6" y1="745.5" x2="1642" y2="745.5" stroke="#000" stroke-width="1" stroke-dasharray="3 3"/>
<line x1="6" y1="776.5" x2="1642" y2="776.5" stroke="#000" stroke-width="1" stroke-dasharray="3 3"/>
<line x1="6" y1="812.5" x2="1642" y2="812.5" stroke="#000" stroke-width="1" stroke-dasharray="3 3"/>
</g>
<g shape-rendering="crispEdges">
<rect x="1645" y="599" width="1" height="1" fill="#000"/>
<rect x="1645" y="663" width="1" height="1" fill="#000"/>
<rect x="1645" y="720" width="1" height="1" fill="#000"/>
<rect x="1645" y="725" width="1" height="1" fill="#000"/>
<rect x="1645" y="827" width="1" height="1" fill="#000"/>
</g>
<text x="1648.2" y="608" font-size="10" fill="#000" textLength="37.8" lengthAdjust="spacingAndGlyphs" stroke="#000" stroke-width="0.15">0.004778</text>
<text x="1648.5" y="667" font-size="10" fill="#000" textLength="17" lengthAdjust="spacingAndGlyphs" stroke="#000" stroke-width="0.15">0.00</text>
<text x="1648" y="718" font-size="10" fill="#000" textLength="40.8" lengthAdjust="spacingAndGlyphs" stroke="#000" stroke-width="0.15">-0.004266</text>
<text x="1648.7" y="734" font-size="10" fill="#000" textLength="14" lengthAdjust="spacingAndGlyphs" stroke="#000" stroke-width="0.15">100</text>
<text x="1647.1" y="749" font-size="10" fill="#000" textLength="9.7" lengthAdjust="spacingAndGlyphs" stroke="#000" stroke-width="0.15">80</text>
<text x="1647.1" y="780" font-size="10" fill="#000" textLength="9.7" lengthAdjust="spacingAndGlyphs" stroke="#000" stroke-width="0.15">50</text>
<text x="1648" y="816.2" font-size="10" fill="#000" textLength="9.2" lengthAdjust="spacingAndGlyphs" stroke="#000" stroke-width="0.15">15</text>
<text x="1647.8" y="825.3" font-size="10" fill="#000" textLength="4.8" lengthAdjust="spacingAndGlyphs" stroke="#000" stroke-width="0.15">0</text>
<text y="610" font-size="10" fill="#000" stroke="#000" stroke-width="0.15"><tspan x="10.1" textLength="64.9" lengthAdjust="spacingAndGlyphs">MACD(12,26,9)</tspan> <tspan x="78.2" textLength="40.1" lengthAdjust="spacingAndGlyphs">-0.003855</tspan> <tspan x="122.3" textLength="40.5" lengthAdjust="spacingAndGlyphs">-0.001144</tspan></text>
<text y="736" font-size="10" fill="#000" stroke="#000" stroke-width="0.15"><tspan x="9.7" textLength="30.6" lengthAdjust="spacingAndGlyphs">RSI(14)</tspan> <tspan x="44.6" textLength="32.1" lengthAdjust="spacingAndGlyphs">20.0432</tspan></text>
<g shape-rendering="crispEdges">
<rect x="8" y="32" width="7" height="1" fill="#000"/>
<rect x="9" y="33" width="5" height="1" fill="#000"/>
<rect x="10" y="34" width="3" height="1" fill="#000"/>
<rect x="11" y="35" width="1" height="1" fill="#000"/>
</g>
<text y="37" font-size="10" fill="#000" stroke="#000" stroke-width="0.15"><tspan x="20.5" textLength="58.2" lengthAdjust="spacingAndGlyphs">USDCAD-,H4</tspan> <tspan x="85.8" textLength="32" lengthAdjust="spacingAndGlyphs">1.34205</tspan> <tspan x="121.8" textLength="32" lengthAdjust="spacingAndGlyphs">1.34261</tspan> <tspan x="157.8" textLength="32" lengthAdjust="spacingAndGlyphs">1.33705</tspan> <tspan x="193.8" textLength="32" lengthAdjust="spacingAndGlyphs">1.33724</tspan></text>
<g shape-rendering="crispEdges">
<rect x="1310" y="26" width="9" height="1" fill="#000"/>
<rect x="1311" y="27" width="7" height="1" fill="#000"/>
<rect x="1312" y="28" width="5" height="1" fill="#000"/>
<rect x="1313" y="29" width="3" height="1" fill="#000"/>
<rect x="1314" y="30" width="1" height="1" fill="#000"/>
</g>
<g shape-rendering="crispEdges">
<rect x="5" y="829" width="1" height="3" fill="#000"/>
</g>
<text y="841" font-size="10" fill="#000" stroke="#000" stroke-width="0.15"><tspan x="4.1" textLength="10.3" lengthAdjust="spacingAndGlyphs">18</tspan> <tspan x="17.5" textLength="14.4" lengthAdjust="spacingAndGlyphs">Apr</tspan> <tspan x="34.8" textLength="20.4" lengthAdjust="spacingAndGlyphs">2023</tspan></text>
<g shape-rendering="crispEdges">
<rect x="69" y="829" width="1" height="3" fill="#000"/>
</g>
<text y="841" font-size="10" fill="#000" stroke="#000" stroke-width="0.15"><tspan x="68.1" textLength="10.3" lengthAdjust="spacingAndGlyphs">19</tspan> <tspan x="81.5" textLength="14.4" lengthAdjust="spacingAndGlyphs">Apr</tspan> <tspan x="98.6" textLength="23.5" lengthAdjust="spacingAndGlyphs">00:00</tspan></text>
<g shape-rendering="crispEdges">
<rect x="133" y="829" width="1" height="3" fill="#000"/>
</g>
<text y="841" font-size="10" fill="#000" stroke="#000" stroke-width="0.15"><tspan x="132.1" textLength="10.3" lengthAdjust="spacingAndGlyphs">19</tspan> <tspan x="145.5" textLength="14.4" lengthAdjust="spacingAndGlyphs">Apr</tspan> <tspan x="162.6" textLength="23.5" lengthAdjust="spacingAndGlyphs">16:00</tspan></text>
<g shape-rendering="crispEdges">
<rect x="197" y="829" width="1" height="3" fill="#000"/>
</g>
<text y="841" font-size="10" fill="#000" stroke="#000" stroke-width="0.15"><tspan x="196.1" textLength="10.3" lengthAdjust="spacingAndGlyphs">20</tspan> <tspan x="209.5" textLength="14.4" lengthAdjust="spacingAndGlyphs">Apr</tspan> <tspan x="226.6" textLength="23.5" lengthAdjust="spacingAndGlyphs">08:00</tspan></text>
<g shape-rendering="crispEdges">
<rect x="261" y="829" width="1" height="3" fill="#000"/>
</g>
<text y="841" font-size="10" fill="#000" stroke="#000" stroke-width="0.15"><tspan x="260.1" textLength="10.3" lengthAdjust="spacingAndGlyphs">21</tspan> <tspan x="273.5" textLength="14.4" lengthAdjust="spacingAndGlyphs">Apr</tspan> <tspan x="290.6" textLength="23.5" lengthAdjust="spacingAndGlyphs">00:00</tspan></text>
<g shape-rendering="crispEdges">
<rect x="325" y="829" width="1" height="3" fill="#000"/>
</g>
<text y="841" font-size="10" fill="#000" stroke="#000" stroke-width="0.15"><tspan x="324.1" textLength="10.3" lengthAdjust="spacingAndGlyphs">21</tspan> <tspan x="337.5" textLength="14.4" lengthAdjust="spacingAndGlyphs">Apr</tspan> <tspan x="354.6" textLength="23.5" lengthAdjust="spacingAndGlyphs">16:00</tspan></text>
<g shape-rendering="crispEdges">
<rect x="389" y="829" width="1" height="3" fill="#000"/>
</g>
<text y="841" font-size="10" fill="#000" stroke="#000" stroke-width="0.15"><tspan x="388.1" textLength="10.3" lengthAdjust="spacingAndGlyphs">24</tspan> <tspan x="401.5" textLength="14.4" lengthAdjust="spacingAndGlyphs">Apr</tspan> <tspan x="418.6" textLength="23.5" lengthAdjust="spacingAndGlyphs">08:00</tspan></text>
<g shape-rendering="crispEdges">
<rect x="453" y="829" width="1" height="3" fill="#000"/>
</g>
<text y="841" font-size="10" fill="#000" stroke="#000" stroke-width="0.15"><tspan x="452.1" textLength="10.3" lengthAdjust="spacingAndGlyphs">25</tspan> <tspan x="465.5" textLength="14.4" lengthAdjust="spacingAndGlyphs">Apr</tspan> <tspan x="482.6" textLength="23.5" lengthAdjust="spacingAndGlyphs">00:00</tspan></text>
<g shape-rendering="crispEdges">
<rect x="517" y="829" width="1" height="3" fill="#000"/>
</g>
<text y="841" font-size="10" fill="#000" stroke="#000" stroke-width="0.15"><tspan x="516.1" textLength="10.3" lengthAdjust="spacingAndGlyphs">25</tspan> <tspan x="529.5" textLength="14.4" lengthAdjust="spacingAndGlyphs">Apr</tspan> <tspan x="546.6" textLength="23.5" lengthAdjust="spacingAndGlyphs">16:00</tspan></text>
<g shape-rendering="crispEdges">
<rect x="581" y="829" width="1" height="3" fill="#000"/>
</g>
<text y="841" font-size="10" fill="#000" stroke="#000" stroke-width="0.15"><tspan x="580.1" textLength="10.3" lengthAdjust="spacingAndGlyphs">26</tspan> <tspan x="593.5" textLength="14.4" lengthAdjust="spacingAndGlyphs">Apr</tspan> <tspan x="610.6" textLength="23.5" lengthAdjust="spacingAndGlyphs">08:00</tspan></text>
<g shape-rendering="crispEdges">
<rect x="645" y="829" width="1" height="3" fill="#000"/>
</g>
<text y="841" font-size="10" fill="#000" stroke="#000" stroke-width="0.15"><tspan x="644.1" textLength="10.3" lengthAdjust="spacingAndGlyphs">27</tspan> <tspan x="657.5" textLength="14.4" lengthAdjust="spacingAndGlyphs">Apr</tspan> <tspan x="674.6" textLength="23.5" lengthAdjust="spacingAndGlyphs">00:00</tspan></text>
<g shape-rendering="crispEdges">
<rect x="709" y="829" width="1" height="3" fill="#000"/>
</g>
<text y="841" font-size="10" fill="#000" stroke="#000" stroke-width="0.15"><tspan x="708.1" textLength="10.3" lengthAdjust="spacingAndGlyphs">27</tspan> <tspan x="721.5" textLength="14.4" lengthAdjust="spacingAndGlyphs">Apr</tspan> <tspan x="738.6" textLength="23.5" lengthAdjust="spacingAndGlyphs">16:00</tspan></text>
<g shape-rendering="crispEdges">
<rect x="773" y="829" width="1" height="3" fill="#000"/>
</g>
<text y="841" font-size="10" fill="#000" stroke="#000" stroke-width="0.15"><tspan x="772.1" textLength="10.3" lengthAdjust="spacingAndGlyphs">28</tspan> <tspan x="785.5" textLength="14.4" lengthAdjust="spacingAndGlyphs">Apr</tspan> <tspan x="802.6" textLength="23.5" lengthAdjust="spacingAndGlyphs">08:00</tspan></text>
<g shape-rendering="crispEdges">
<rect x="837" y="829" width="1" height="3" fill="#000"/>
</g>
<text y="841" font-size="10" fill="#000" stroke="#000" stroke-width="0.15"><tspan x="835.6" textLength="5.8" lengthAdjust="spacingAndGlyphs">1</tspan> <tspan x="843.7" textLength="19.3" lengthAdjust="spacingAndGlyphs">May</tspan> <tspan x="865.7" textLength="23.7" lengthAdjust="spacingAndGlyphs">00:00</tspan></text>
<g shape-rendering="crispEdges">
<rect x="901" y="829" width="1" height="3" fill="#000"/>
</g>
<text y="841" font-size="10" fill="#000" stroke="#000" stroke-width="0.15"><tspan x="899.6" textLength="5.8" lengthAdjust="spacingAndGlyphs">1</tspan> <tspan x="907.7" textLength="19.3" lengthAdjust="spacingAndGlyphs">May</tspan> <tspan x="929.7" textLength="23.7" lengthAdjust="spacingAndGlyphs">16:00</tspan></text>
<g shape-rendering="crispEdges">
<rect x="965" y="829" width="1" height="3" fill="#000"/>
</g>
<text y="841" font-size="10" fill="#000" stroke="#000" stroke-width="0.15"><tspan x="963.6" textLength="5.8" lengthAdjust="spacingAndGlyphs">2</tspan> <tspan x="971.7" textLength="19.3" lengthAdjust="spacingAndGlyphs">May</tspan> <tspan x="993.7" textLength="23.7" lengthAdjust="spacingAndGlyphs">08:00</tspan></text>
<g shape-rendering="crispEdges">
<rect x="1029" y="829" width="1" height="3" fill="#000"/>
</g>
<text y="841" font-size="10" fill="#000" stroke="#000" stroke-width="0.15"><tspan x="1027.6" textLength="5.8" lengthAdjust="spacingAndGlyphs">3</tspan> <tspan x="1035.7" textLength="19.3" lengthAdjust="spacingAndGlyphs">May</tspan> <tspan x="1057.7" textLength="23.7" lengthAdjust="spacingAndGlyphs">00:00</tspan></text>
<g shape-rendering="crispEdges">
<rect x="1093" y="829" width="1" height="3" fill="#000"/>
</g>
<text y="841" font-size="10" fill="#000" stroke="#000" stroke-width="0.15"><tspan x="1091.6" textLength="5.8" lengthAdjust="spacingAndGlyphs">3</tspan> <tspan x="1099.7" textLength="19.3" lengthAdjust="spacingAndGlyphs">May</tspan> <tspan x="1121.7" textLength="23.7" lengthAdjust="spacingAndGlyphs">16:00</tspan></text>
<g shape-rendering="crispEdges">
<rect x="1157" y="829" width="1" height="3" fill="#000"/>
</g>
<text y="841" font-size="10" fill="#000" stroke="#000" stroke-width="0.15"><tspan x="1155.6" textLength="5.8" lengthAdjust="spacingAndGlyphs">4</tspan> <tspan x="1163.7" textLength="19.3" lengthAdjust="spacingAndGlyphs">May</tspan> <tspan x="1185.7" textLength="23.7" lengthAdjust="spacingAndGlyphs">08:00</tspan></text>
<g shape-rendering="crispEdges">
<rect x="1221" y="829" width="1" height="3" fill="#000"/>
</g>
<text y="841" font-size="10" fill="#000" stroke="#000" stroke-width="0.15"><tspan x="1219.6" textLength="5.8" lengthAdjust="spacingAndGlyphs">5</tspan> <tspan x="1227.7" textLength="19.3" lengthAdjust="spacingAndGlyphs">May</tspan> <tspan x="1249.7" textLength="23.7" lengthAdjust="spacingAndGlyphs">00:00</tspan></text>
<g shape-rendering="crispEdges">
<rect x="1285" y="829" width="1" height="3" fill="#000"/>
</g>
<text y="841" font-size="10" fill="#000" stroke="#000" stroke-width="0.15"><tspan x="1283.6" textLength="5.8" lengthAdjust="spacingAndGlyphs">5</tspan> <tspan x="1291.7" textLength="19.3" lengthAdjust="spacingAndGlyphs">May</tspan> <tspan x="1313.7" textLength="23.7" lengthAdjust="spacingAndGlyphs">16:00</tspan></text>
<line x1="1321.3" y1="386.8" x2="1384" y2="491" stroke="#4e9a2e" stroke-width="3"/>
<path d="M1376 494.8L1391.3 486.2L1392.6 505.6z" fill="#4e9a2e"/>
<defs><pattern id="chk" width="2" height="2" patternUnits="userSpaceOnUse"><rect width="2" height="2" fill="#f0f0f0"/><rect width="1" height="1" fill="#fff"/><rect x="1" y="1" width="1" height="1" fill="#fff"/></pattern><linearGradient id="gd" x1="0" y1="0" x2="1" y2="1"><stop offset="0" stop-color="#e6a80e"/><stop offset="0.45" stop-color="#f8d848"/><stop offset="1" stop-color="#c08414"/></linearGradient><linearGradient id="cl" x1="0" y1="0" x2="0" y2="1"><stop offset="0" stop-color="#ffffff"/><stop offset="1" stop-color="#b8c6e0"/></linearGradient><linearGradient id="bx" x1="0" y1="0" x2="1" y2="1"><stop offset="0" stop-color="#18a0ff"/><stop offset="1" stop-color="#0a78e0"/></linearGradient><radialGradient id="rb" cx="0.4" cy="0.3" r="0.8"><stop offset="0" stop-color="#f05030"/><stop offset="1" stop-color="#d02010"/></radialGradient><linearGradient id="hat" x1="0" y1="0" x2="0" y2="1"><stop offset="0" stop-color="#7cc4ea"/><stop offset="1" stop-color="#2a8ac0"/></linearGradient><linearGradient id="yl" x1="0" y1="0" x2="1" y2="0"><stop offset="0" stop-color="#e0b000"/><stop offset="0.5" stop-color="#fff080"/><stop offset="1" stop-color="#f0c820"/></linearGradient><linearGradient id="cn" x1="0" y1="0" x2="1" y2="0"><stop offset="0" stop-color="#20c040"/><stop offset="0.5" stop-color="#90ffa0"/><stop offset="1" stop-color="#20c040"/></linearGradient><radialGradient id="ck" cx="0.5" cy="0.5" r="0.5"><stop offset="0" stop-color="#ffffff"/><stop offset="0.7" stop-color="#e4eef8"/><stop offset="0.72" stop-color="#1a80e0"/><stop offset="1" stop-color="#0a58b8"/></radialGradient><linearGradient id="sg" x1="0" y1="0" x2="1" y2="1"><stop offset="0" stop-color="#d8ecd0"/><stop offset="1" stop-color="#48a848"/></linearGradient></defs>
<g shape-rendering="crispEdges">
<rect x="5" y="0" width="1" height="19" fill="#a0a0a0"/>
</g>
<path d="M15.5 2.5q0 -1 1 -1h7l3 3v9q0 1 -1 1h-9q-1 0 -1 -1z" fill="#fff" stroke="#777" stroke-width="1"/>
<path d="M23.5 1.5v3h3" fill="#eee" stroke="#777" stroke-width="1"/>
<g shape-rendering="crispEdges">
<rect x="17" y="3" width="3" height="2" fill="#999"/>
<rect x="17" y="7" width="6" height="1" fill="#999"/>
<rect x="17" y="9" width="5" height="1" fill="#999"/>
<rect x="17" y="11" width="3" height="1" fill="#999"/>
</g>
<path d="M23.5 7.5h3v4h4v3h-4v4h-3v-4h-4v-3h4z" fill="#22dd33" stroke="#0a8a0a" stroke-width="1"/>
<path d="M24.5 8.5h1v4h4" fill="none" stroke="#8f8" stroke-width="1" opacity="0.7"/>
<text x="33.7" y="12" font-size="11.6" fill="#000" stroke="#000" stroke-width="0.18" style="font-family:'Liberation Sans','Noto Sans CJK SC',sans-serif" textLength="37.3" lengthAdjust="spacingAndGlyphs">新订单</text>
<path d="M87.3 2.3L98 9.2L97.8 11L90 16.9L82 11.8L82.2 10.2z" fill="url(#gd)" stroke="#8e5c06" stroke-width="1.1" stroke-linejoin="round"/>
<path d="M82.6 10.6L89.8 15L97.6 9.4" fill="none" stroke="#a87010" stroke-width="0.9"/>
<path d="M90.4 15.6L97.4 10.4" fill="none" stroke="#e8d8a0" stroke-width="0.7"/>
<path d="M112.4 2.2l4 -1h5.6l1 1.4v7h-10.6z" fill="url(#bx)"/>
<path d="M115.5 2.5v7" stroke="#8fd0ff" stroke-width="0.8" fill="none"/>
<path d="M117 6.2l4.5 -1.2" stroke="#fff" stroke-width="1.2" fill="none"/>
<path d="M113 16.3h10.2a2.4 2.4 0 0 0 0.3 -4.8a3 3 0 0 0 -4.4 -1.2a2.8 2.8 0 0 0 -4.6 1.4a2.3 2.3 0 0 0 -1.5 4.6z" fill="url(#cl)" stroke="#4868a8" stroke-width="0.9"/>
<circle cx="146" cy="9" r="7.6" fill="#e6eef6" opacity="0.6"/>
<path d="M146 9L146 16.6A7.6 7.6 0 0 0 153.6 9A7.6 7.6 0 0 0 149 2z" fill="url(#sg)" opacity="0.9"/>
<circle cx="146" cy="9" r="7.2" fill="none" stroke="#5a86d8" stroke-width="1" stroke-dasharray="14 3" opacity="0.85"/>
<circle cx="146" cy="9" r="4.4" fill="none" stroke="#4a78d0" stroke-width="1" stroke-dasharray="9 2" opacity="0.85"/>
<circle cx="146" cy="8.8" r="1.9" fill="#2858c8"/>
<rect x="145.6" y="9.5" width="1.5" height="7.2" fill="#18a028"/>
<path d="M165.3 8.2h15.4l-1 2.2l-6.6 6.4h-1.4l-5.6 -5.2z" fill="url(#yl)" stroke="#c89a08" stroke-width="0.7"/>
<ellipse cx="173" cy="6" rx="7.9" ry="2.7" fill="url(#hat)" stroke="#2a84b4" stroke-width="0.7"/>
<path d="M168.8 5.6q0.4 -4.4 4.4 -4.4q4 0 4.4 4.2q-4.4 1.8 -8.8 0.2z" fill="url(#hat)" stroke="#2a84b4" stroke-width="0.6"/>
<circle cx="177.6" cy="12.8" r="4.1" fill="url(#rb)"/>
<rect x="176.1" y="11.3" width="3" height="3" fill="#fff"/>
<text x="186" y="12" font-size="11.6" fill="#000" stroke="#000" stroke-width="0.18" style="font-family:'Liberation Sans','Noto Sans CJK SC',sans-serif" textLength="48.2" lengthAdjust="spacingAndGlyphs">自动交易</text>
<g shape-rendering="crispEdges">
<rect x="241" y="0" width="1" height="21" fill="#a0a0a0"/>
<rect x="242" y="0" width="1" height="21" fill="#ffffff"/>
</g>
<g shape-rendering="crispEdges">
<rect x="245" y="1" width="3" height="1" fill="#b4b4b4"/>
<rect x="245" y="3" width="3" height="1" fill="#b4b4b4"/>
<rect x="245" y="5" width="3" height="1" fill="#b4b4b4"/>
<rect x="245" y="7" width="3" height="1" fill="#b4b4b4"/>
<rect x="245" y="9" width="3" height="1" fill="#b4b4b4"/>
<rect x="245" y="11" width="3" height="1" fill="#b4b4b4"/>
<rect x="245" y="13" width="3" height="1" fill="#b4b4b4"/>
<rect x="245" y="15" width="3" height="1" fill="#b4b4b4"/>
<rect x="245" y="17" width="3" height="1" fill="#b4b4b4"/>
</g>
<g shape-rendering="crispEdges">
<rect x="259" y="3" width="1" height="14" fill="#555"/>
<rect x="258" y="4" width="3" height="1" fill="#555"/>
<rect x="257" y="14" width="13" height="1" fill="#555"/>
<rect x="269" y="13" width="1" height="3" fill="#555"/>
<rect x="270" y="14" width="1" height="1" fill="#555"/>
</g>
<g shape-rendering="crispEdges">
<rect x="265" y="4" width="1" height="9" fill="#008000"/>
<rect x="266" y="5" width="2" height="1" fill="#008000"/>
<rect x="263" y="11" width="2" height="1" fill="#008000"/>
</g>
<g shape-rendering="crispEdges">
<rect x="279" y="0" width="1" height="19" fill="#a0a0a0"/>
</g>
<g shape-rendering="crispEdges">
<rect x="280" y="0" width="24" height="19" fill="url(#chk)"/>
<rect x="304" y="0" width="1" height="20" fill="#ffffff"/>
<rect x="279" y="19" width="26" height="1" fill="#ffffff"/>
</g>
<g shape-rendering="crispEdges">
<rect x="287" y="3" width="1" height="14" fill="#555"/>
<rect x="286" y="4" width="3" height="1" fill="#555"/>
<rect x="285" y="14" width="13" height="1" fill="#555"/>
<rect x="297" y="13" width="1" height="3" fill="#555"/>
<rect x="298" y="14" width="1" height="1" fill="#555"/>
</g>
<g shape-rendering="crispEdges">
<rect x="293" y="1" width="1" height="12" fill="#008000"/>
<rect x="291" y="3" width="5" height="8" fill="#008000"/>
</g>
<rect x="292" y="4" width="3" height="6" fill="url(#cn)"/>
<g shape-rendering="crispEdges">
<rect x="315" y="3" width="1" height="14" fill="#555"/>
<rect x="314" y="4" width="3" height="1" fill="#555"/>
<rect x="313" y="14" width="13" height="1" fill="#555"/>
<rect x="325" y="13" width="1" height="3" fill="#555"/>
<rect x="326" y="14" width="1" height="1" fill="#555"/>
</g>
<path d="M314 11.6C317 10.5 318.5 6.2 320.2 6.2C322 6.2 323.5 9.6 325.8 10.3" fill="none" stroke="#2e9a2e" stroke-width="1.3"/>
<g shape-rendering="crispEdges">
<rect x="336" y="0" width="1" height="19" fill="#a0a0a0"/>
</g>
<path d="M354.6 10.6L360.2 15.2" stroke="#b88a10" stroke-width="3.2" stroke-linecap="butt"/>
<path d="M354.9 10.9L360.0 15.0" stroke="#f0d040" stroke-width="1.6" stroke-linecap="butt"/>
<circle cx="351" cy="7" r="5.5" fill="#d4ecff" stroke="#3a8adc" stroke-width="1.1"/>
<g shape-rendering="crispEdges">
<rect x="348" y="6" width="6" height="2" fill="#4a88b8"/>
<rect x="350" y="4" width="2" height="6" fill="#4a88b8"/>
</g>
<path d="M382.6 10.6L388.2 15.2" stroke="#b88a10" stroke-width="3.2" stroke-linecap="butt"/>
<path d="M382.9 10.9L388.0 15.0" stroke="#f0d040" stroke-width="1.6" stroke-linecap="butt"/>
<circle cx="379" cy="7" r="5.5" fill="#d4ecff" stroke="#3a8adc" stroke-width="1.1"/>
<g shape-rendering="crispEdges">
<rect x="376" y="6" width="6" height="2" fill="#4a88b8"/>
</g>
<g shape-rendering="crispEdges">
<rect x="401" y="1" width="8" height="8" fill="#3aa41a"/>
<rect x="401" y="1" width="8" height="2" fill="#2a8a10"/>
<rect x="402" y="2" width="1" height="1" fill="#fff"/>
<rect x="402" y="4" width="6" height="4" fill="#fff"/>
<rect x="403" y="5" width="4" height="1" fill="#a0d880"/>
<rect x="403" y="7" width="4" height="1" fill="#3aa41a"/>
<rect x="409" y="1" width="8" height="8" fill="#2a5ad8"/>
<rect x="409" y="1" width="8" height="2" fill="#1838b0"/>
<rect x="410" y="2" width="1" height="1" fill="#fff"/>
<rect x="410" y="4" width="6" height="4" fill="#fff"/>
<rect x="411" y="5" width="4" height="1" fill="#a0b0f0"/>
<rect x="411" y="7" width="4" height="1" fill="#2a5ad8"/>
<rect x="401" y="9" width="8" height="8" fill="#2a5ad8"/>
<rect x="401" y="9" width="8" height="2" fill="#1838b0"/>
<rect x="402" y="10" width="1" height="1" fill="#fff"/>
<rect x="402" y="12" width="6" height="4" fill="#fff"/>
<rect x="403" y="13" width="4" height="1" fill="#a0b0f0"/>
<rect x="403" y="15" width="4" height="1" fill="#2a5ad8"/>
<rect x="409" y="9" width="8" height="8" fill="#3aa41a"/>
<rect x="409" y="9" width="8" height="2" fill="#2a8a10"/>
<rect x="410" y="10" width="1" height="1" fill="#fff"/>
<rect x="410" y="12" width="6" height="4" fill="#fff"/>
<rect x="411" y="13" width="4" height="1" fill="#a0d880"/>
<rect x="411" y="15" width="4" height="1" fill="#3aa41a"/>
</g>
<g shape-rendering="crispEdges">
<rect x="426" y="0" width="1" height="19" fill="#a0a0a0"/>
</g>
<g shape-rendering="crispEdges">
<rect x="431" y="0" width="1" height="19" fill="#a0a0a0"/>
</g>
<g shape-rendering="crispEdges">
<rect x="432" y="0" width="24" height="19" fill="url(#chk)"/>
<rect x="456" y="0" width="1" height="20" fill="#ffffff"/>
<rect x="431" y="19" width="26" height="1" fill="#ffffff"/>
</g>
<g shape-rendering="crispEdges">
<rect x="439" y="3" width="1" height="14" fill="#555"/>
<rect x="438" y="4" width="3" height="1" fill="#555"/>
<rect x="437" y="14" width="13" height="1" fill="#555"/>
<rect x="449" y="13" width="1" height="3" fill="#555"/>
<rect x="450" y="14" width="1" height="1" fill="#555"/>
</g>
<path d="M444.5 5.4L448 8.6L444.5 11.8z" fill="#90e890" stroke="#10a010" stroke-width="1"/>
<g shape-rendering="crispEdges">
<rect x="459" y="0" width="1" height="19" fill="#a0a0a0"/>
</g>
<g shape-rendering="crispEdges">
<rect x="460" y="0" width="24" height="19" fill="url(#chk)"/>
<rect x="484" y="0" width="1" height="20" fill="#ffffff"/>
<rect x="459" y="19" width="26" height="1" fill="#ffffff"/>
</g>
<g shape-rendering="crispEdges">
<rect x="467" y="3" width="1" height="14" fill="#555"/>
<rect x="466" y="4" width="3" height="1" fill="#555"/>
<rect x="465" y="14" width="13" height="1" fill="#555"/>
<rect x="477" y="13" width="1" height="3" fill="#555"/>
<rect x="478" y="14" width="1" height="1" fill="#555"/>
</g>
<g shape-rendering="crispEdges">
<rect x="473" y="3" width="1" height="10" fill="#1874b0"/>
<rect x="475" y="8" width="4" height="1" fill="#d04000"/>
</g>
<path d="M474.3 8.5L477 6v5z" fill="#e05000"/>
<g shape-rendering="crispEdges">
<rect x="488" y="0" width="1" height="19" fill="#a0a0a0"/>
</g>
<path d="M498.5 2.5q0 -1 1 -1h7l3 3v9q0 1 -1 1h-9q-1 0 -1 -1z" fill="#fff" stroke="#777" stroke-width="1"/>
<path d="M506.5 1.5v3h3" fill="#eee" stroke="#777" stroke-width="1"/>
<path d="M506.5 7.5h3v4h4v3h-4v4h-3v-4h-4v-3h4z" fill="#22dd33" stroke="#0a8a0a" stroke-width="1"/>
<path d="M507.5 8.5h1v4h4" fill="none" stroke="#8f8" stroke-width="1" opacity="0.7"/>
<path d="M501.5 5.5q-1.5 0 -1.5 1.5v4q0 1.5 1.5 1.5" fill="none" stroke="#665" stroke-width="0.8"/>
<g shape-rendering="crispEdges">
<rect x="520" y="8" width="5" height="1" fill="#000"/>
<rect x="521" y="9" width="3" height="1" fill="#000"/>
<rect x="522" y="10" width="1" height="1" fill="#000"/>
</g>
<circle cx="544" cy="9" r="8" fill="url(#ck)"/>
<circle cx="544" cy="9" r="7.4" fill="none" stroke="#0a62c8" stroke-width="1.2"/>
<circle cx="544" cy="9" r="6.4" fill="none" stroke="#38a0f8" stroke-width="1.2"/>
<path d="M543.5 5.2v4h3" fill="none" stroke="#222" stroke-width="1.2"/>
<g shape-rendering="crispEdges">
<rect x="559" y="8" width="5" height="1" fill="#000"/>
<rect x="560" y="9" width="3" height="1" fill="#000"/>
<rect x="561" y="10" width="1" height="1" fill="#000"/>
</g>
<g shape-rendering="crispEdges">
<rect x="575" y="2" width="16" height="14" fill="#3a78c8"/>
<rect x="576" y="3" width="14" height="2" fill="#8cc0f0"/>
<rect x="576" y="5" width="14" height="5" fill="#fff"/>
<rect x="576" y="11" width="14" height="4" fill="#fff"/>
</g>
<path d="M577 8.5h2l1.5 -1.5h1.5l1 1h2l1.5 -1.5h1.5" fill="none" stroke="#a02808" stroke-width="1.2"/>
<path d="M578 13.5h2l1 -1h1l1 1h1l2 -2l2 2" fill="none" stroke="#108a20" stroke-width="1.2"/>
<g shape-rendering="crispEdges">
<rect x="598" y="8" width="5" height="1" fill="#000"/>
<rect x="599" y="9" width="3" height="1" fill="#000"/>
<rect x="600" y="10" width="1" height="1" fill="#000"/>
</g>
<g shape-rendering="crispEdges">
<rect x="609" y="0" width="1" height="21" fill="#a0a0a0"/>
<rect x="610" y="0" width="1" height="21" fill="#ffffff"/>
</g>
<g shape-rendering="crispEdges">
<rect x="613" y="1" width="3" height="1" fill="#b4b4b4"/>
<rect x="613" y="3" width="3" height="1" fill="#b4b4b4"/>
<rect x="613" y="5" width="3" height="1" fill="#b4b4b4"/>
<rect x="613" y="7" width="3" height="1" fill="#b4b4b4"/>
<rect x="613" y="9" width="3" height="1" fill="#b4b4b4"/>
<rect x="613" y="11" width="3" height="1" fill="#b4b4b4"/>
<rect x="613" y="13" width="3" height="1" fill="#b4b4b4"/>
<rect x="613" y="15" width="3" height="1" fill="#b4b4b4"/>
<rect x="613" y="17" width="3" height="1" fill="#b4b4b4"/>
</g>
<g shape-rendering="crispEdges">
<rect x="619" y="0" width="1" height="19" fill="#a0a0a0"/>
</g>
<g shape-rendering="crispEdges">
<rect x="620" y="0" width="24" height="19" fill="url(#chk)"/>
<rect x="644" y="0" width="1" height="20" fill="#ffffff"/>
<rect x="619" y="19" width="26" height="1" fill="#ffffff"/>
</g>
<path d="M627 2L627 13L629.6 10.6L632 16L634 15.2L631.7 9.8L635 9.6z" fill="#4d4d4d"/>
<g shape-rendering="crispEdges">
<rect x="652" y="9" width="6" height="1" fill="#4a4a4a"/>
<rect x="661" y="9" width="6" height="1" fill="#4a4a4a"/>
<rect x="659" y="2" width="1" height="6" fill="#4a4a4a"/>
<rect x="659" y="11" width="1" height="6" fill="#4a4a4a"/>
<rect x="659" y="9" width="1" height="1" fill="#8a8a6a"/>
</g>
<g shape-rendering="crispEdges">
<rect x="676" y="0" width="1" height="19" fill="#a0a0a0"/>
</g>
<g shape-rendering="crispEdges">
<rect x="693" y="3" width="1" height="13" fill="#4a4a4a"/>
<rect x="716" y="9" width="12" height="1" fill="#4a4a4a"/>
</g>
<path d="M743.8 15.8L756.2 3.8" stroke="#444" stroke-width="1.15"/>
<path d="M770 10.8L777.8 3.2M770.8 15L782.6 3.2M774.6 16L784.2 7.2" stroke="#333" stroke-width="1.15" fill="none"/>
<path d="M772 14L773.5 8.5L775.3 12.2L777.2 6.6L779.2 10.2L781.5 2L782.8 7.6" stroke="#333" stroke-width="1.15" fill="none"/>
<text x="780.8" y="17.7" font-size="6.8" font-weight="bold" fill="#1a1a1a" style="font-family:'Liberation Sans',sans-serif">E</text>
<g shape-rendering="crispEdges">
<rect x="799" y="2" width="1" height="1" fill="#4a4a4a"/>
<rect x="801" y="2" width="1" height="1" fill="#4a4a4a"/>
<rect x="803" y="2" width="1" height="1" fill="#4a4a4a"/>
<rect x="805" y="2" width="1" height="1" fill="#4a4a4a"/>
<rect x="807" y="2" width="1" height="1" fill="#4a4a4a"/>
<rect x="809" y="2" width="1" height="1" fill="#4a4a4a"/>
<rect x="811" y="2" width="1" height="1" fill="#4a4a4a"/>
<rect x="799" y="5" width="1" height="1" fill="#4a4a4a"/>
<rect x="801" y="5" width="1" height="1" fill="#4a4a4a"/>
<rect x="803" y="5" width="1" height="1" fill="#4a4a4a"/>
<rect x="805" y="5" width="1" height="1" fill="#4a4a4a"/>
<rect x="807" y="5" width="1" height="1" fill="#4a4a4a"/>
<rect x="809" y="5" width="1" height="1" fill="#4a4a4a"/>
<rect x="811" y="5" width="1" height="1" fill="#4a4a4a"/>
<rect x="799" y="9" width="1" height="1" fill="#4a4a4a"/>
<rect x="801" y="9" width="1" height="1" fill="#4a4a4a"/>
<rect x="803" y="9" width="1" height="1" fill="#4a4a4a"/>
<rect x="805" y="9" width="1" height="1" fill="#4a4a4a"/>
<rect x="807" y="9" width="1" height="1" fill="#4a4a4a"/>
<rect x="809" y="9" width="1" height="1" fill="#4a4a4a"/>
<rect x="811" y="9" width="1" height="1" fill="#4a4a4a"/>
<rect x="799" y="13" width="1" height="1" fill="#4a4a4a"/>
<rect x="801" y="13" width="1" height="1" fill="#4a4a4a"/>
<rect x="803" y="13" width="1" height="1" fill="#4a4a4a"/>
<rect x="805" y="13" width="1" height="1" fill="#4a4a4a"/>
<rect x="807" y="13" width="1" height="1" fill="#4a4a4a"/>
</g>
<text x="808.7" y="17.7" font-size="6.8" font-weight="bold" fill="#1a1a1a" style="font-family:'Liberation Sans',sans-serif">F</text>
<text x="829.7" y="14" font-size="12.8" fill="#4a4a4a" stroke="#4a4a4a" stroke-width="0.3" style="font-family:'Liberation Sans',sans-serif" textLength="7.8" lengthAdjust="spacingAndGlyphs">A</text>
<g shape-rendering="crispEdges">
<rect x="856" y="3" width="1" height="1" fill="#4a4a4a"/>
<rect x="857" y="15" width="1" height="1" fill="#4a4a4a"/>
<rect x="858" y="3" width="1" height="1" fill="#4a4a4a"/>
<rect x="859" y="15" width="1" height="1" fill="#4a4a4a"/>
<rect x="860" y="3" width="1" height="1" fill="#4a4a4a"/>
<rect x="861" y="15" width="1" height="1" fill="#4a4a4a"/>
<rect x="862" y="3" width="1" height="1" fill="#4a4a4a"/>
<rect x="863" y="15" width="1" height="1" fill="#4a4a4a"/>
<rect x="864" y="3" width="1" height="1" fill="#4a4a4a"/>
<rect x="865" y="15" width="1" height="1" fill="#4a4a4a"/>
<rect x="866" y="3" width="1" height="1" fill="#4a4a4a"/>
<rect x="867" y="15" width="1" height="1" fill="#4a4a4a"/>
<rect x="856" y="3" width="1" height="1" fill="#4a4a4a"/>
<rect x="867" y="3" width="1" height="1" fill="#4a4a4a"/>
<rect x="856" y="5" width="1" height="1" fill="#4a4a4a"/>
<rect x="867" y="5" width="1" height="1" fill="#4a4a4a"/>
<rect x="856" y="7" width="1" height="1" fill="#4a4a4a"/>
<rect x="867" y="7" width="1" height="1" fill="#4a4a4a"/>
<rect x="856" y="9" width="1" height="1" fill="#4a4a4a"/>
<rect x="867" y="9" width="1" height="1" fill="#4a4a4a"/>
<rect x="856" y="11" width="1" height="1" fill="#4a4a4a"/>
<rect x="867" y="11" width="1" height="1" fill="#4a4a4a"/>
<rect x="856" y="13" width="1" height="1" fill="#4a4a4a"/>
<rect x="867" y="13" width="1" height="1" fill="#4a4a4a"/>
<rect x="856" y="15" width="1" height="1" fill="#4a4a4a"/>
<rect x="867" y="15" width="1" height="1" fill="#4a4a4a"/>
<rect x="855" y="2" width="2" height="1" fill="#4a4a4a"/>
<rect x="858" y="6" width="8" height="1" fill="#4a4a4a"/>
<rect x="861" y="6" width="2" height="8" fill="#4a4a4a"/>
</g>
<path d="M886.5 2.8L890.4 6.4L886.5 8L882.8 6.4z" fill="#4a4a4a"/>
<path d="M890 12.6L893.6 11L897.2 12.6L893.6 16.4z" fill="#4a4a4a"/>
<path d="M885.2 10.6L887.6 12.8L891.8 7.4" fill="none" stroke="#4a4a4a" stroke-width="1.3"/>
<g shape-rendering="crispEdges">
<rect x="904" y="8" width="5" height="1" fill="#000"/>
<rect x="905" y="9" width="3" height="1" fill="#000"/>
<rect x="906" y="10" width="1" height="1" fill="#000"/>
</g>
<g shape-rendering="crispEdges">
<rect x="915" y="0" width="1" height="21" fill="#a0a0a0"/>
<rect x="916" y="0" width="1" height="21" fill="#ffffff"/>
</g>
<g shape-rendering="crispEdges">
<rect x="919" y="1" width="3" height="1" fill="#b4b4b4"/>
<rect x="919" y="3" width="3" height="1" fill="#b4b4b4"/>
<rect x="919" y="5" width="3" height="1" fill="#b4b4b4"/>
<rect x="919" y="7" width="3" height="1" fill="#b4b4b4"/>
<rect x="919" y="9" width="3" height="1" fill="#b4b4b4"/>
<rect x="919" y="11" width="3" height="1" fill="#b4b4b4"/>
<rect x="919" y="13" width="3" height="1" fill="#b4b4b4"/>
<rect x="919" y="15" width="3" height="1" fill="#b4b4b4"/>
<rect x="919" y="17" width="3" height="1" fill="#b4b4b4"/>
</g>
<g shape-rendering="crispEdges">
<rect x="1065" y="0" width="1" height="19" fill="#a0a0a0"/>
</g>
<g shape-rendering="crispEdges">
<rect x="1066" y="0" width="24" height="19" fill="url(#chk)"/>
<rect x="1090" y="0" width="1" height="20" fill="#ffffff"/>
<rect x="1065" y="19" width="26" height="1" fill="#ffffff"/>
</g>
<text x="930.7" y="13" font-size="10" fill="#333" stroke="#333" stroke-width="0.2" style="font-family:'Liberation Sans',sans-serif" textLength="12.4" lengthAdjust="spacingAndGlyphs">M1</text>
<text x="958.7" y="13" font-size="10" fill="#333" stroke="#333" stroke-width="0.2" style="font-family:'Liberation Sans',sans-serif" textLength="12.5" lengthAdjust="spacingAndGlyphs">M5</text>
<text x="984.7" y="13" font-size="10" fill="#333" stroke="#333" stroke-width="0.2" style="font-family:'Liberation Sans',sans-serif" textLength="17.3" lengthAdjust="spacingAndGlyphs">M15</text>
<text x="1012.8" y="13" font-size="10" fill="#333" stroke="#333" stroke-width="0.2" style="font-family:'Liberation Sans',sans-serif" textLength="17.3" lengthAdjust="spacingAndGlyphs">M30</text>
<text x="1043.8" y="13" font-size="10" fill="#333" stroke="#333" stroke-width="0.2" style="font-family:'Liberation Sans',sans-serif" textLength="11.1" lengthAdjust="spacingAndGlyphs">H1</text>
<text x="1070.3" y="13" font-size="10" fill="#333" stroke="#333" stroke-width="0.2" style="font-family:'Liberation Sans',sans-serif" textLength="12.5" lengthAdjust="spacingAndGlyphs">H4</text>
<text x="1099.7" y="13" font-size="10" fill="#333" stroke="#333" stroke-width="0.2" style="font-family:'Liberation Sans',sans-serif" textLength="11.4" lengthAdjust="spacingAndGlyphs">D1</text>
<text x="1127.1" y="13" font-size="10" fill="#333" stroke="#333" stroke-width="0.2" style="font-family:'Liberation Sans',sans-serif" textLength="14.0" lengthAdjust="spacingAndGlyphs">W1</text>
<text x="1153.9" y="13" font-size="10" fill="#333" stroke="#333" stroke-width="0.2" style="font-family:'Liberation Sans',sans-serif" textLength="14.4" lengthAdjust="spacingAndGlyphs">MN</text>
<g shape-rendering="crispEdges">
<rect x="1176" y="0" width="1" height="21" fill="#a0a0a0"/>
<rect x="1177" y="0" width="1" height="21" fill="#ffffff"/>
</g>
<path d="M1643.4 9.8L1639.2 14" stroke="#3a6ad8" stroke-width="2.6" stroke-linecap="round"/>
<circle cx="1646.5" cy="6.6" r="4" fill="#f4f6fa" stroke="#2a60d0" stroke-width="1.3"/>
<path d="M1664 11.5a4.5 4 0 0 1 4.5 -4.5h2a4.5 4 0 0 1 0 9h-3l-2.6 2.2l0.4 -2.8a4 4 0 0 1 -1.3 -3.9z" fill="#dcdce6" stroke="#b4b4b8" stroke-width="0.8"/>
<circle cx="1677.5" cy="6.6" r="8" fill="url(#rb)"/>
<text x="1677.6" y="11" font-size="12.5" fill="#fff" text-anchor="middle" style="font-family:'Liberation Sans',sans-serif">1</text>
</svg></body></html>
